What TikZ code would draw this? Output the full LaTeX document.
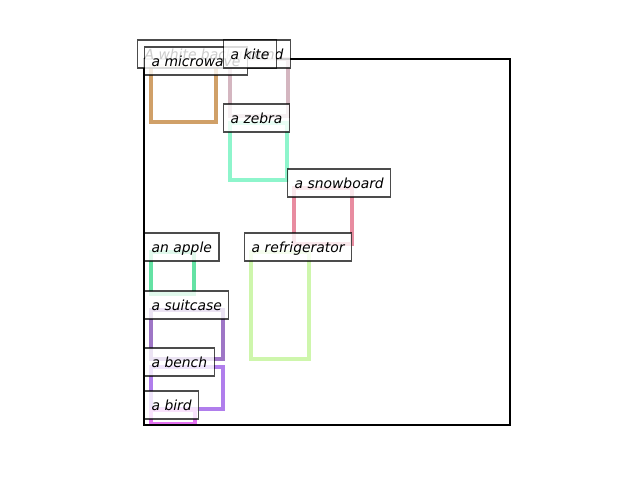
\documentclass[tikz,border=0pt]{standalone}
\usepackage{fontspec}
\setmainfont{DejaVu Sans}
\usepackage{tikz}

\definecolor{microwavecol}{RGB}{208,160,104}
\definecolor{kitecol}{RGB}{212,182,192}
\definecolor{zebracol}{RGB}{142,245,204}
\definecolor{snowboardcol}{RGB}{232,140,160}
\definecolor{applecol}{RGB}{100,226,164}
\definecolor{fridgecol}{RGB}{206,246,172}
\definecolor{suitcasecol}{RGB}{158,118,198}
\definecolor{benchcol}{RGB}{176,126,236}
\definecolor{birdcol}{RGB}{226,112,240}

\tikzset{
  bbox/.style={line width=2.5pt},
  tag/.style={anchor=base west,draw=black,draw opacity=0.7,fill=white,fill opacity=0.8,text opacity=1,
              inner xsep=5.04pt,inner ysep=3pt,text height=10.7pt,text depth=3.5pt,font=\itshape,line width=0.9pt}
}

\begin{document}
\begin{tikzpicture}[x=0.72pt,y=-0.72pt]
        \useasboundingbox (0,0) rectangle (640,480);
        \draw[bbox,microwavecol] (151,66)  rectangle (216,122);
        \draw[bbox,kitecol]      (230,59)  rectangle (288,116);
        \draw[bbox,zebracol]     (230,123) rectangle (287,180);
        \draw[bbox,snowboardcol] (294,188) rectangle (352,244);
        \draw[bbox,applecol]     (151,252) rectangle (194,294);
        \draw[bbox,fridgecol]    (251,252) rectangle (309,359);
        \draw[bbox,suitcasecol]  (151,310) rectangle (223,359);
        \draw[bbox,benchcol]     (151,367) rectangle (223,409);
        \draw[bbox,birdcol]      (151,410) rectangle (195,424);

        \draw[line width=1.8pt] (144,59) rectangle (510,425);

        \node (caption)    at (137,59)  [tag] {A white background};
        \node (Lmicrowave) at (144,66)  [tag] {a microwave};
        \node (Lkite)      at (223,59)  [tag] {a kite};
        \node (Lzebra)     at (223,123) [tag] {a zebra};
        \node (Lsnowboard) at (287,188) [tag] {a snowboard};
        \node (Lapple)     at (144,252) [tag] {an apple};
        \node (Lfridge)    at (244,252) [tag] {a refrigerator};
        \node (Lsuitcase)  at (144,310) [tag] {a suitcase};
        \node (Lbench)     at (144,367) [tag] {a bench};
        \node (Lbird)      at (144,410) [tag] {a bird};
    \end{tikzpicture}
\end{document}
